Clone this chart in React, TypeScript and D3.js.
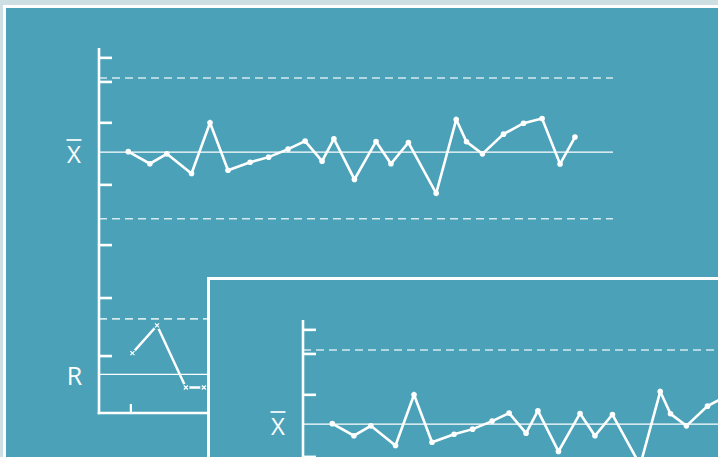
import React from "react";
import * as d3 from "d3";

// Sample positions (time units 0..100) and X-bar values
const xbarTimes = [5.7, 9.9, 13.2, 18.0, 21.6, 25.1, 29.4, 33.0, 36.8, 40.1, 43.4, 45.7, 49.7, 53.9, 56.8, 60.2, 65.6, 69.5, 71.5, 74.6, 78.7, 82.6, 86.2, 89.7, 92.6];
const xbarValues = [71.6, 68.3, 71.0, 65.6, 79.5, 66.5, 68.7, 70.1, 72.3, 74.5, 69.0, 75.1, 64.0, 74.4, 68.3, 74.1, 60.2, 80.4, 74.3, 71.0, 76.4, 79.4, 80.7, 68.2, 75.6];
const rangeTimes = [6.5, 11.3, 16.9, 20.4];
const rangeValues = [16.4, 24.0, 7.0, 7.0];
const yTicks = [97.3, 90.7, 79.5, 62.5, 46.0, 31.5, 15.6];
const xTicks = [6.2];
const xbarLimits = { ucl: 91.8, cl: 71.5, lcl: 53.2 };
const rangeLimits = { ucl: 25.8, cl: 10.6 };
const panelOffsets = [[0, 0], [204, 272]];

const W = 718, H = 457;
const BG = "#cddfe3";
const TEAL = "#4ba2b8";
const DASH = "#d6e9ee";

function Panel({ dx, dy }: { dx: number; dy: number }) {
  const x = d3.scaleLinear().domain([0, 100]).range([99, 613]);
  const y = d3.scaleLinear().domain([0, 100]).range([413, 48]);
  const xbarPts = xbarTimes.map((t, i) => [x(t), y(xbarValues[i])] as [number, number]);
  const rPts = rangeTimes.map((t, i) => [x(rangeTimes[i]), y(rangeValues[i])] as [number, number]);
  const line = d3.line();
  const x0 = x(0), x1 = x(100);
  const font = "'Open Sans', 'Liberation Sans', sans-serif";
  return (
    <g transform={`translate(${dx},${dy})`}>
      <rect x={4.5} y={6.5} width={1400} height={1000} fill={TEAL} stroke="#ffffff" strokeWidth={3} />
      {/* limit lines */}
      <line x1={x0} x2={x1} y1={y(xbarLimits.ucl)} y2={y(xbarLimits.ucl)} stroke={DASH} strokeWidth={1.6} strokeDasharray="8,5" />
      <line x1={x0} x2={x1} y1={y(xbarLimits.lcl)} y2={y(xbarLimits.lcl)} stroke={DASH} strokeWidth={1.6} strokeDasharray="8,5" />
      <line x1={x0} x2={x1} y1={y(xbarLimits.cl)} y2={y(xbarLimits.cl)} stroke="#ffffff" strokeWidth={1.3} />
      <line x1={x0} x2={x1} y1={y(rangeLimits.ucl)} y2={y(rangeLimits.ucl)} stroke={DASH} strokeWidth={1.6} strokeDasharray="8,5" />
      <line x1={x0} x2={x1} y1={y(rangeLimits.cl)} y2={y(rangeLimits.cl)} stroke="#ffffff" strokeWidth={1.3} />
      {/* axes */}
      <line x1={x0} x2={x0} y1={y(100)} y2={y(0) + 1.3} stroke="#ffffff" strokeWidth={2.6} />
      <line x1={x0 - 1.3} x2={x1} y1={y(0)} y2={y(0)} stroke="#ffffff" strokeWidth={2.6} />
      {yTicks.map((v, i) => (
        <line key={"yt" + i} x1={x0} x2={x0 + 13} y1={y(v)} y2={y(v)} stroke="#ffffff" strokeWidth={2.6} />
      ))}
      {xTicks.map((v, i) => (
        <line key={"xt" + i} x1={x(v)} x2={x(v)} y1={y(0)} y2={y(0) - 9} stroke="#ffffff" strokeWidth={2.2} />
      ))}
      {/* X-bar series */}
      <path d={line(xbarPts) || ""} fill="none" stroke="#ffffff" strokeWidth={2.6} strokeLinejoin="miter" />
      {xbarPts.map((p, i) => (
        <circle key={"xp" + i} cx={p[0]} cy={p[1]} r={2.8} fill="#ffffff" />
      ))}
      {/* R series */}
      <path d={line(rPts) || ""} fill="none" stroke="#ffffff" strokeWidth={2.4} />
      {rPts.map((p, i) => (
        <g key={"rp" + i}>
          <circle cx={p[0]} cy={p[1]} r={3.6} fill={TEAL} />
          <path d={`M${p[0] - 2},${p[1] - 2}L${p[0] + 2},${p[1] + 2}M${p[0] - 2},${p[1] + 2}L${p[0] + 2},${p[1] - 2}`} stroke="#ffffff" strokeWidth={1.3} />
        </g>
      ))}
      {/* labels */}
      <text x={74} y={y(xbarLimits.cl) + 11} fill="#ffffff" fontSize={24} fontWeight={400} fontFamily={font} textAnchor="middle">X</text>
      <line x1={66.5} x2={81.5} y1={140} y2={140} stroke="#ffffff" strokeWidth={1.7} />
      <text x={74.5} y={y(rangeLimits.cl) + 10.5} fill="#ffffff" fontSize={25} fontWeight={400} fontFamily={font} textAnchor="middle">R</text>
    </g>
  );
}

export default function App() {
  return (
    <svg width={W} height={H} style={{ position: "absolute", left: 0, top: 0, display: "block" }}>
      <rect x={0} y={0} width={W} height={H} fill={BG} />
      {panelOffsets.map(([dx, dy], i) => (
        <Panel key={i} dx={dx} dy={dy} />
      ))}
    </svg>
  );
}
